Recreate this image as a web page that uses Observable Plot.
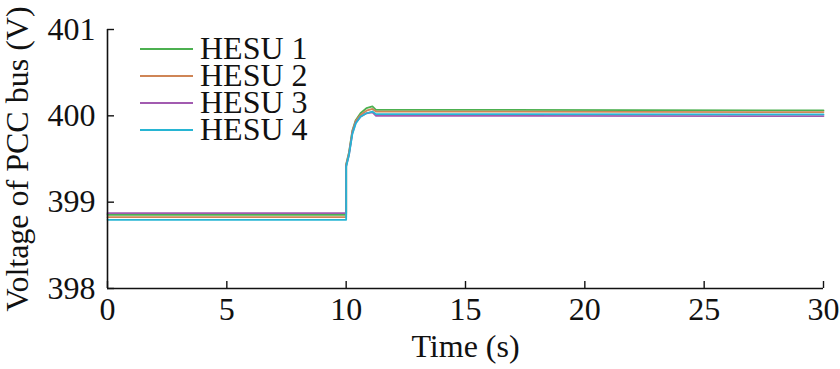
<!DOCTYPE html>
<html>
<head>
<meta charset="utf-8">
<script src="https://cdn.jsdelivr.net/npm/d3@7"></script>
<script src="https://cdn.jsdelivr.net/npm/@observablehq/plot@0.6"></script>
<style>
  html, body { margin: 0; padding: 0; background: #fff; }
  #wrap { position: relative; width: 840px; height: 369px; font-family: "Liberation Serif", "Times New Roman", serif; }
  #wrap svg text { font-family: "Liberation Serif", "Times New Roman", serif; }
  #legend { position: absolute; left: 140px; top: 35px; display: flex; }
  #sws { display: flex; flex-direction: column; margin-right: 7px; }
  .sw { height: 27px; width: 53px; display: flex; align-items: center; }
  .sw div { width: 53px; height: 2px; }
  #labs { font-size: 32px; line-height: 27px; white-space: pre; color: #111; }
</style>
</head>
<body>
<div id="wrap"><div id="legend"><div id="sws"></div><div id="labs"></div></div></div>
<script>
const seriesNames = ["HESU 1", "HESU 2", "HESU 3", "HESU 4"];
const seriesColors = ["#4cb050", "#cf8556", "#a25bb0", "#27b5d3"];
const time  = [0, 10, 10, 10.12, 10.26, 10.4, 10.6, 10.85, 11.1, 11.25, 30];
const hesu1 = [398.854, 398.854, 399.44, 399.58, 399.83, 399.95, 400.03, 400.09, 400.11, 400.07, 400.063];
const hesu2 = [398.826, 398.826, 399.43, 399.57, 399.82, 399.94, 400.01, 400.06, 400.08, 400.05, 400.043];
const hesu3 = [398.872, 398.872, 399.42, 399.55, 399.80, 399.92, 399.99, 400.03, 400.04, 400.00, 399.997];
const hesu4 = [398.796, 398.796, 399.41, 399.55, 399.79, 399.91, 399.99, 400.03, 400.05, 400.02, 400.016];
const xTicks = [0, 5, 10, 15, 20, 25, 30];
const yTicks = [398, 399, 400, 401];
const xLabel = "Time (s)";
const yLabel = "Voltage of PCC bus (V)";

const allSeries = [hesu1, hesu2, hesu3, hesu4];
const data = [];
allSeries.forEach((vals, k) => vals.forEach((v, i) => data.push({t: time[i], v, s: seriesNames[k]})));

const W = 840, H = 369, mT = 29, mB = 81, mL = 107, mR = 17;
const frameH = H - mT - mB, frameW = W - mL - mR;
const tickLen = 7;
const serif = "'Liberation Serif', 'Times New Roman', serif";

const chart = Plot.plot({
  width: W, height: H,
  marginTop: mT, marginBottom: mB, marginLeft: mL, marginRight: mR,
  style: {fontFamily: serif, fontSize: "32px", color: "#111", background: "#fff"},
  x: {domain: [0, 30]},
  y: {domain: [398, 401]},
  color: {domain: seriesNames, range: seriesColors},
  marks: [
    Plot.line(data, {x: "t", y: "v", z: "s", stroke: "s", strokeWidth: 1.8}),
    Plot.ruleY([398], {stroke: "#111", strokeWidth: 1.6}),
    Plot.ruleX([0], {stroke: "#111", strokeWidth: 1.6}),
    Plot.tickX(xTicks, {x: d => d, stroke: "#111", strokeWidth: 1.4, insetTop: frameH - tickLen}),
    Plot.tickY(yTicks, {y: d => d, stroke: "#111", strokeWidth: 1.4, insetRight: frameW - tickLen}),
    Plot.axisX(xTicks, {tickSize: 0, tickPadding: 9, fontSize: 32, fontFamily: serif, tickFormat: d => String(d), label: xLabel, labelAnchor: "center", labelOffset: 68, labelArrow: "none"}),
    Plot.axisY(yTicks, {tickSize: 0, tickPadding: 12, fontSize: 32, fontFamily: serif, tickFormat: d => String(d), label: yLabel, labelAnchor: "center", labelOffset: 102, labelArrow: "none"})
  ]
});
const wrap = document.getElementById("wrap");
wrap.insertBefore(chart, wrap.firstChild);

const sws = document.getElementById("sws");
seriesColors.forEach(c => {
  const row = document.createElement("div");
  row.className = "sw";
  const ln = document.createElement("div");
  ln.style.background = c;
  row.appendChild(ln);
  sws.appendChild(row);
});
document.getElementById("labs").textContent = seriesNames.join("\n");
</script>
</body>
</html>
